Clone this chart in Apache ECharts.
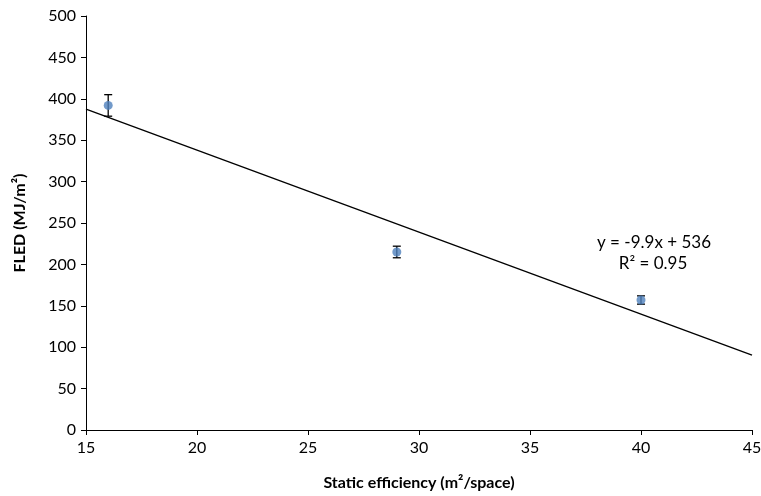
<!DOCTYPE html>
<html><head><meta charset="utf-8">
<script src="https://cdn.jsdelivr.net/npm/echarts@6/dist/echarts.min.js"></script>
<style>html,body{margin:0;padding:0;background:#fff}#c{width:761px;height:496px}</style>
</head><body><div id="c"></div>
<script>
const xValues = [16, 29, 40];
const yValues = [392, 215, 157];
const yErrors = [13, 7, 5];
const slope = -9.9;
const intercept = 536;
const trendRange = [15, 45];
const xTicks = [15, 20, 25, 30, 35, 40, 45];
const yTicks = [0, 50, 100, 150, 200, 250, 300, 350, 400, 450, 500];

const FONT = 'Lato, "Open Sans", sans-serif';
const chart = echarts.init(document.getElementById('c'));
const pts = xValues.map((x, i) => [x, yValues[i]]);
const errData = xValues.map((x, i) => [x, yValues[i] - yErrors[i], yValues[i] + yErrors[i]]);
const trend = trendRange.map(x => [x, slope * x + intercept]);

chart.setOption({
  animation: false,
  grid: { left: 86, right: 9, top: 16, bottom: 66, outerBoundsMode: 'none' },
  xAxis: {
    type: 'value', min: 15, max: 45, interval: 5,
    name: 'Static efficiency (m²/space)', nameLocation: 'middle', nameGap: 45,
    nameTextStyle: { fontFamily: FONT, fontWeight: 'bold', fontSize: 16, color: '#000' },
    axisLine: { show: true, onZero: false, lineStyle: { color: '#000', width: 1 } },
    axisTick: { show: true, inside: false, length: 5, lineStyle: { color: '#000' } },
    axisLabel: { fontFamily: FONT, fontSize: 16, color: '#000', margin: 10 },
    splitLine: { show: false }
  },
  yAxis: {
    type: 'value', min: 0, max: 500, interval: 50,
    name: 'FLED (MJ/m²)', nameLocation: 'middle', nameGap: 58,
    nameTextStyle: { fontFamily: FONT, fontWeight: 'bold', fontSize: 16, color: '#000' },
    axisLine: { show: true, lineStyle: { color: '#000', width: 1 } },
    axisTick: { show: true, inside: false, length: 5, lineStyle: { color: '#000' } },
    axisLabel: { fontFamily: FONT, fontSize: 16, color: '#000', margin: 10 },
    splitLine: { show: false }
  },
  series: [
    {
      type: 'line', data: trend, symbol: 'none', z: 2,
      lineStyle: { color: '#000', width: 1.3 }
    },
    {
      type: 'custom', z: 3,
      data: errData,
      renderItem: function (params, api) {
        const lo = api.coord([api.value(0), api.value(1)]);
        const hi = api.coord([api.value(0), api.value(2)]);
        const w = 4;
        const st = { stroke: '#000', lineWidth: 1.3 };
        return { type: 'group', children: [
          { type: 'line', shape: { x1: lo[0], y1: lo[1], x2: hi[0], y2: hi[1] }, style: st },
          { type: 'line', shape: { x1: lo[0] - w, y1: lo[1], x2: lo[0] + w, y2: lo[1] }, style: st },
          { type: 'line', shape: { x1: hi[0] - w, y1: hi[1], x2: hi[0] + w, y2: hi[1] }, style: st }
        ]};
      }
    },
    {
      type: 'scatter', data: pts, symbol: 'circle', symbolSize: 9, z: 4,
      itemStyle: { color: '#4F81BD' }
    }
  ],
  graphic: [
    { type: 'text', x: 654, y: 243, style: { text: 'y = -9.9x + 536', fontFamily: FONT, fontSize: 17, fill: '#000', align: 'center', verticalAlign: 'middle' } },
    { type: 'text', x: 653, y: 264, style: { text: 'R² = 0.95', fontFamily: FONT, fontSize: 17, fill: '#000', align: 'center', verticalAlign: 'middle' } }
  ]
});
</script></body></html>
